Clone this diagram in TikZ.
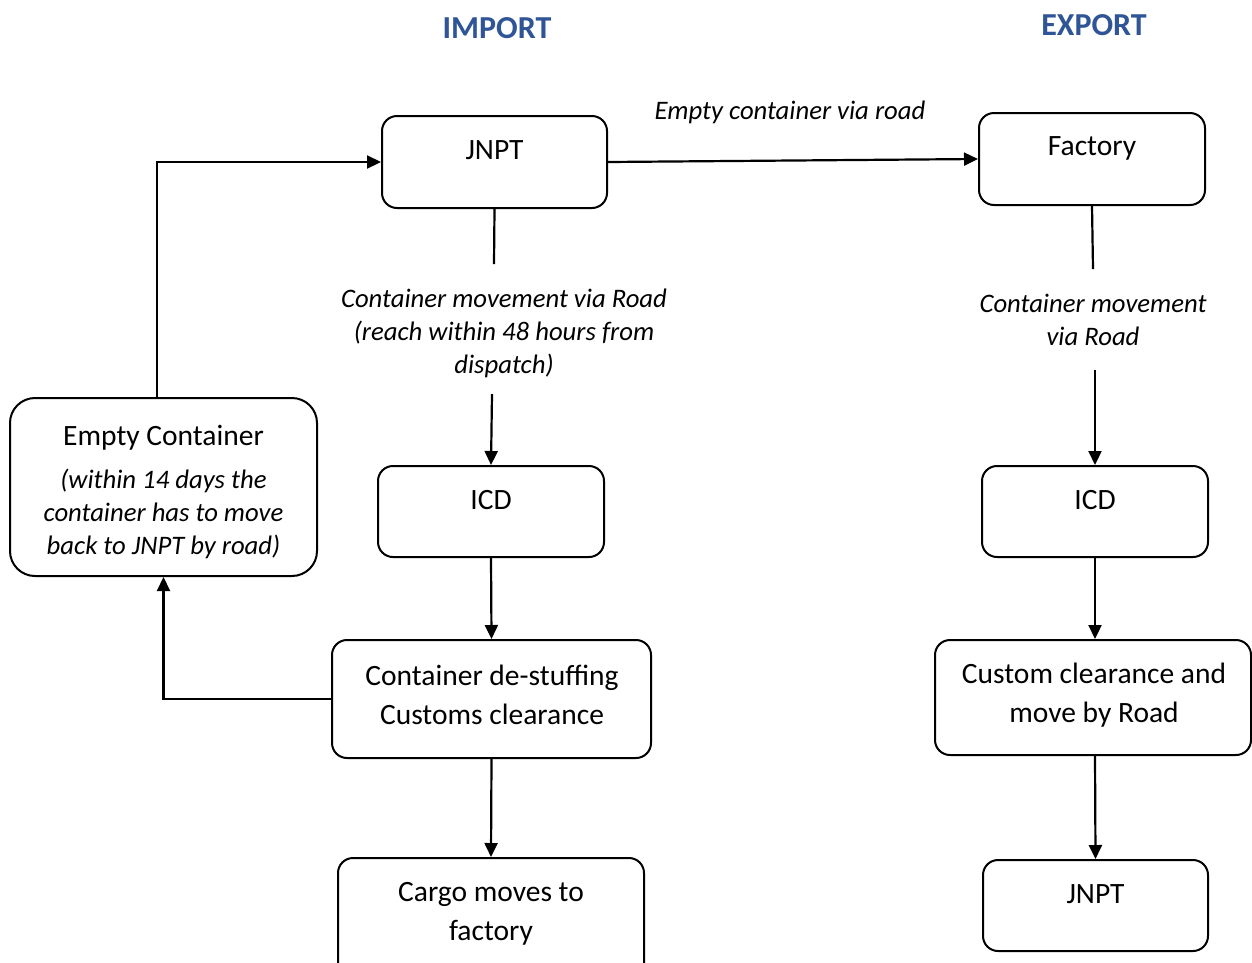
\documentclass[tikz,border=0pt]{standalone}
\usepackage{fontspec}
\setmainfont{Carlito}
\usetikzlibrary{arrows.meta}
\definecolor{titleblue}{HTML}{2F5597}
\tikzset{
  box/.style={draw, line width=2pt, rounded corners=15pt, inner sep=0pt},
  txt/.style={align=center, inner sep=0pt, font=\fontsize{29.5}{39}\selectfont},
  itxt/.style={align=center, inner sep=0pt, font=\fontsize{26.7}{33}\selectfont\itshape},
  title/.style={inner sep=0pt, text=titleblue, font=\fontsize{32}{36}\selectfont\bfseries},
  conn/.style={line width=2.2pt},
  arr/.style={line width=2.2pt, -{Triangle[length=14pt,width=13pt]}}
}
\begin{document}
\begin{tikzpicture}[x=1pt,y=-1pt]
\useasboundingbox (0,0) rectangle (1252,962);
% titles
\node[title] (timp) at (497,28) {IMPORT};
\node[title] (texp) at (1094,25) {EXPORT};
% import boxes
\node[box, minimum width=225pt, minimum height=92pt] (jnpt) at (494.5,162) {};
\node[txt] (jnptT) at (494.5,150) {JNPT};
\node[box, minimum width=226pt, minimum height=91pt] (icd) at (491,511.5) {};
\node[txt] (icdT) at (491,500) {ICD};
\node[box, minimum width=319pt, minimum height=118pt] (dest) at (491.5,699) {};
\node[txt] (destT) at (492,695) {Container de-stuffing\\Customs clearance};
\node[box, minimum width=306pt, minimum height=120pt] (cargo) at (491,918) {};
\node[txt] (cargoT) at (491,914) {Cargo moves to\\factory};
\node[box, rounded corners=25pt, minimum width=307pt, minimum height=178pt] (empty) at (163.5,487) {};
\node[txt] (emptyT) at (163.5,438) {Empty Container};
\node[itxt] (emptyI) at (163.5,514) {(within 14 days the\\container has to move\\back to JNPT by road)};
% export boxes
\node[box, minimum width=226pt, minimum height=92pt] (fact) at (1092,159) {};
\node[txt] (factT) at (1092,148) {Factory};
\node[box, minimum width=226pt, minimum height=91pt] (icdx) at (1095,511.5) {};
\node[txt] (icdxT) at (1095,500) {ICD};
\node[box, minimum width=316pt, minimum height=115pt] (cust) at (1093,697.5) {};
\node[txt] (custT) at (1094,695) {Custom clearance and\\move by Road};
\node[box, minimum width=225pt, minimum height=91pt] (jnptx) at (1095.5,905.5) {};
\node[txt] (jnptxT) at (1095.5,894) {JNPT};
% labels
\node[itxt] (lblTop) at (790,112) {Empty container via road};
\node[itxt] (lblImp) at (504,333) {Container movement via Road\\(reach within 48 hours from\\dispatch)};
\node[itxt] (lblExp) at (1093,320) {Container movement\\via Road};
\coordinate (impA) at (494,264);
\coordinate (impB) at (492,394);
\coordinate (expA) at (1093,269);
\coordinate (expB) at (1095,370);
% connectors
\draw[arr] (jnpt.east) -- (fact.west);
\draw[conn] (jnpt.south) -- (impA);
\draw[arr] (impB) -- (icd.north);
\draw[conn] (fact.south) -- (expA);
\draw[arr] (expB) -- (icdx.north);
\draw[arr] (icd.south) -- (dest.north);
\draw[arr] (dest.south) -- (cargo.north);
\draw[arr] (icdx.south) -- (icdx.south |- cust.north);
\draw[arr] (icdx.south |- cust.south) -- (jnptx.north);
\draw[arr] (dest.west) -| (empty.south);
\draw[arr] (empty.north -| 157,0) |- (jnpt.west);
\end{tikzpicture}
\end{document}
